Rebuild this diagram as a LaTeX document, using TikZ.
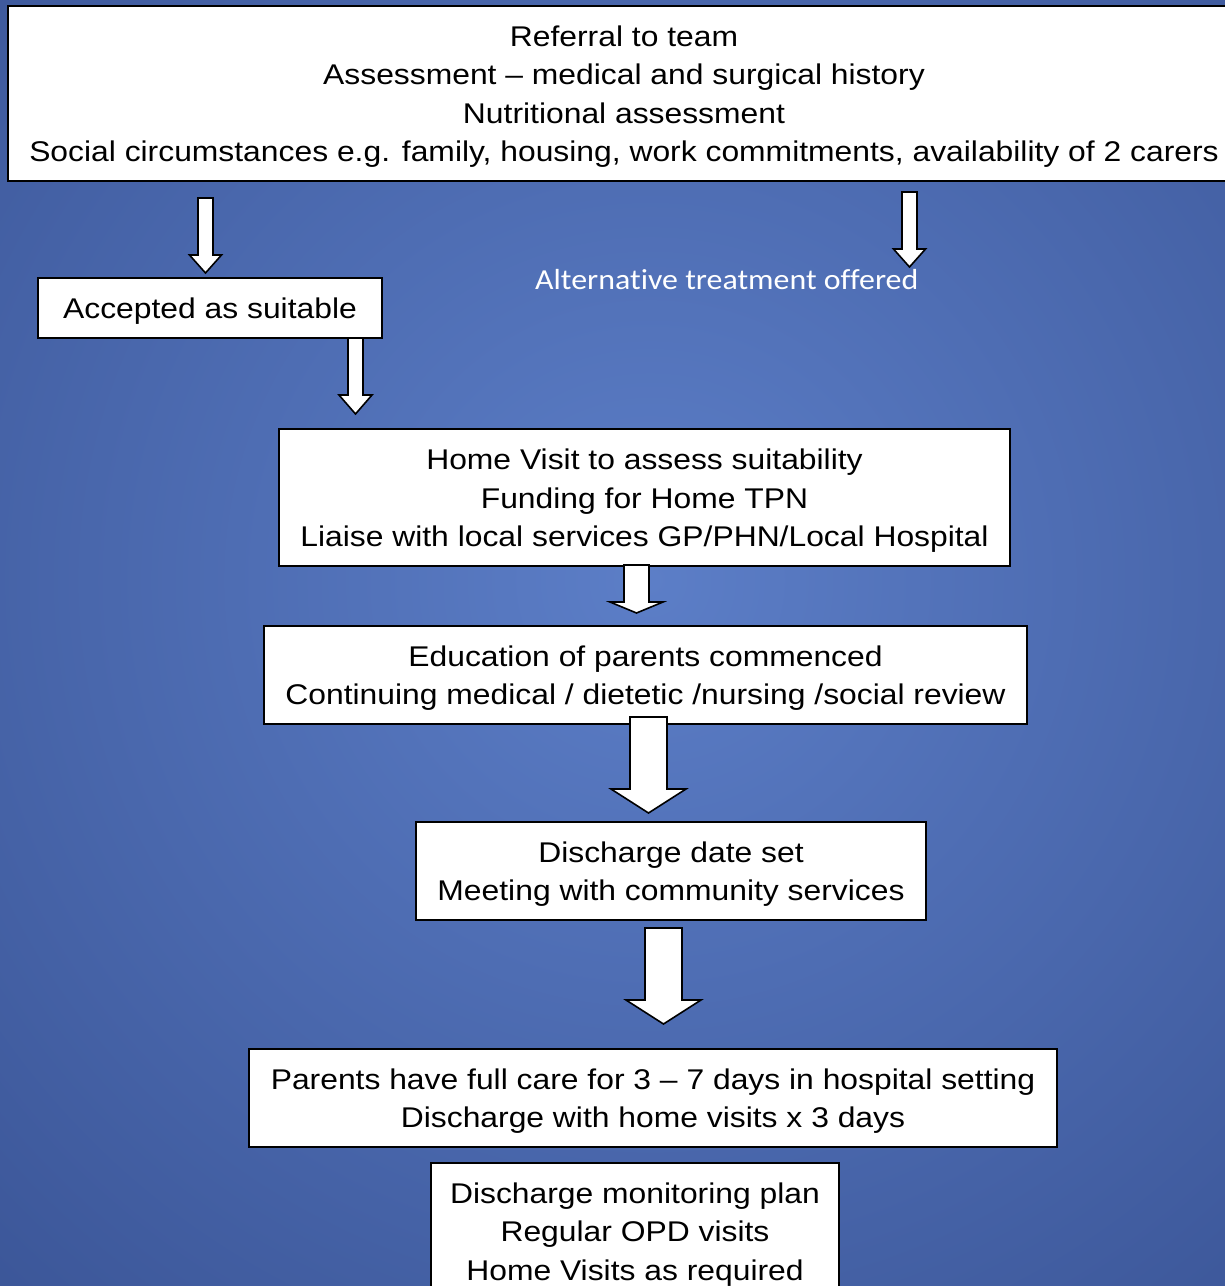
\documentclass[tikz,border=0pt]{standalone}
\usepackage{fontspec}
\setmainfont[FakeStretch=1.117]{Liberation Sans}
\newfontfamily\calfont[FakeStretch=1.10,RawFeature=-liga]{Carlito}
\definecolor{bgin}{RGB}{92,126,199}
\definecolor{bgout}{RGB}{30,50,110}
\newcommand\firstln{\rule{0pt}{27pt}}
\tikzset{
  box/.style={draw=black, line width=1.6pt, fill=white, inner sep=0pt, align=center,
    font=\fontsize{28.5}{38.5}\selectfont, text=black},
  barrow/.style={draw=black, line width=1.6pt, fill=white, line join=miter},
  alttext/.style={font=\calfont\fontsize{29}{34}\selectfont, text=white, inner sep=0pt}
}
% #1 centre x, #2 shaft half width, #3 head half width, #4 top y, #5 head start y, #6 tip y
\newcommand\blockarrow[6]{%
  \draw[barrow] ({#1-#2},#4) -- ({#1+#2},#4) -- ({#1+#2},#5) -- ({#1+#3},#5)
    -- (#1,#6) -- ({#1-#3},#5) -- ({#1-#2},#5) -- cycle;}
\begin{document}
\begin{tikzpicture}[x=1pt,y=-1pt]
\useasboundingbox (0,0) rectangle (1225,1286);
\begin{scope}
\clip (0,0) rectangle (1225,1286);
\shade[inner color=bgin, outer color=bgout] (650,580) circle (1850);

\node[box, minimum width=1232pt, minimum height=175pt] (top) at (624,93.5)
  {\firstln Referral to team\\Assessment -- medical and surgical history\\Nutritional assessment\\Social circumstances e.g. family, housing, work commitments, availability of 2 carers};
\node[box, minimum width=344pt, minimum height=60pt] (acc) at (210,308) {\firstln Accepted as suitable};
\node[alttext, anchor=base west] (alt) at (535,289) {Alternative treatment offered};
\node[box, minimum width=731pt, minimum height=137pt] (home) at (644.5,497.5)
  {\firstln Home Visit to assess suitability\\Funding for Home TPN\\Liaise with local services GP/PHN/Local Hospital};
\node[box, minimum width=763pt, minimum height=98pt] (edu) at (645.5,675)
  {\firstln Education of parents commenced\\Continuing medical / dietetic /nursing /social review};
\node[box, minimum width=510pt, minimum height=98pt] (dis) at (671,871)
  {\firstln Discharge date set\\Meeting with community services};
\node[box, minimum width=808pt, minimum height=98pt] (par) at (653,1098)
  {\firstln Parents have full care for 3 -- 7 days in hospital setting\\Discharge with home visits x 3 days};
\node[box, minimum width=408pt, minimum height=136pt] (mon) at (635,1231)
  {\firstln Discharge monitoring plan\\Regular OPD visits\\Home Visits as required};

\blockarrow{205.5}{7.5}{16}{198}{255}{273}
\blockarrow{909.5}{7.5}{16}{192}{249}{267}
\blockarrow{355.5}{7.5}{16.5}{338}{395}{414}
\blockarrow{636.5}{12.5}{26.5}{565}{602}{613}
\blockarrow{648.5}{18.5}{37.5}{717}{789}{813}
\blockarrow{663.5}{18.5}{37.5}{928}{1000}{1024}
\end{scope}
\end{tikzpicture}
\end{document}
